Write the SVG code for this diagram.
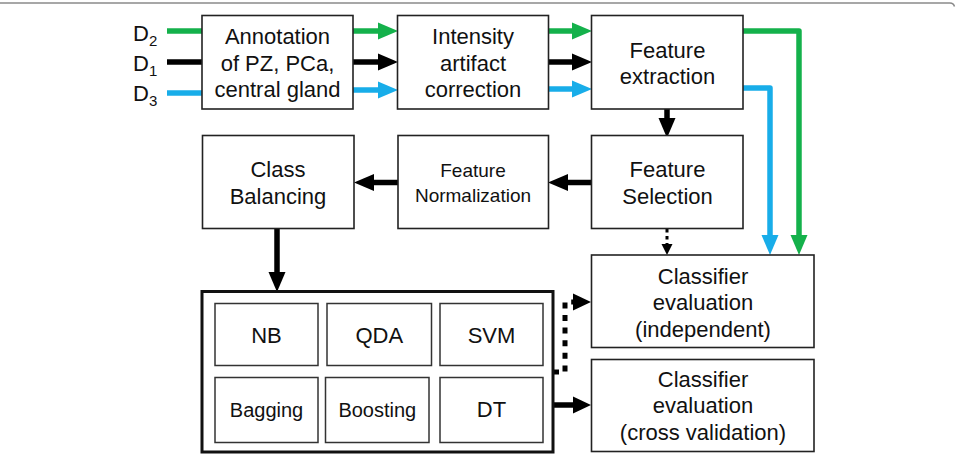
<svg xmlns="http://www.w3.org/2000/svg" width="956" height="456" viewBox="0 0 956 456">
<defs>
<style>
.box{fill:#fff;stroke:#222;stroke-width:1.6}
.inner{fill:#fff;stroke:#333;stroke-width:1.5}
.outer{fill:#fff;stroke:#111;stroke-width:3}
text{font-family:"Liberation Sans",Arial,Helvetica,sans-serif;fill:#111;text-anchor:middle}
.t{font-size:22px}
.s{font-size:19px}
.m{font-size:20px}
.lab{font-size:22px;text-anchor:start}
.sub{font-size:15px}
.k{fill:none;stroke:#000;stroke-width:5.5}
.g{fill:none;stroke:#14b14b;stroke-width:5.5}
.b{fill:none;stroke:#18ade9;stroke-width:5.5}
.dot{fill:none;stroke:#000;stroke-width:5;stroke-dasharray:6 6.6}
.dots{fill:none;stroke:#000;stroke-width:3;stroke-dasharray:3.5 3.5}
</style>
<marker id="ak" markerUnits="userSpaceOnUse" markerWidth="20" markerHeight="17" refX="0" refY="8.5" orient="auto" overflow="visible"><path d="M0,0 L20,8.5 L0,17 Z" fill="#000"/></marker>
<marker id="ag" markerUnits="userSpaceOnUse" markerWidth="20" markerHeight="17" refX="0" refY="8.5" orient="auto" overflow="visible"><path d="M0,0 L20,8.5 L0,17 Z" fill="#14b14b"/></marker>
<marker id="ab" markerUnits="userSpaceOnUse" markerWidth="20" markerHeight="17" refX="0" refY="8.5" orient="auto" overflow="visible"><path d="M0,0 L20,8.5 L0,17 Z" fill="#18ade9"/></marker>
<marker id="ad" markerUnits="userSpaceOnUse" markerWidth="18" markerHeight="17" refX="0" refY="8.5" orient="auto" overflow="visible"><path d="M0,0 L18,8.5 L0,17 Z" fill="#000"/></marker>
<marker id="as" markerUnits="userSpaceOnUse" markerWidth="11" markerHeight="11" refX="0" refY="5.5" orient="auto" overflow="visible"><path d="M0,0 L11,5.5 L0,11 Z" fill="#000"/></marker>
</defs>
<rect width="956" height="456" fill="#fff"/>
<path d="M0,3 H950 Q953.5,3 954.5,6.5" fill="none" stroke="#8a8a8a" stroke-width="1.5"/>

<g id="labels">
<text class="lab" x="133" y="41">D<tspan class="sub" dy="5">2</tspan></text>
<text class="lab" x="133" y="71">D<tspan class="sub" dy="5">1</tspan></text>
<text class="lab" x="133" y="101">D<tspan class="sub" dy="5">3</tspan></text>
</g>

<g id="connectors">
<path class="g" d="M167,31 H203"/>
<path class="k" d="M167,62 H203"/>
<path class="b" d="M167,93 H203"/>
<path class="g" d="M353,31 H378" marker-end="url(#ag)"/>
<path class="k" d="M353,62 H378" marker-end="url(#ak)"/>
<path class="b" d="M353,90 H378" marker-end="url(#ab)"/>
<path class="g" d="M548,31 H572" marker-end="url(#ag)"/>
<path class="k" d="M548,62 H572" marker-end="url(#ak)"/>
<path class="b" d="M548,89 H572" marker-end="url(#ab)"/>
<path class="g" d="M743,31 H799 V235" stroke-linejoin="round" marker-end="url(#ag)"/>
<path class="b" d="M743,88 H770 V235" stroke-linejoin="round" marker-end="url(#ab)"/>
<path class="k" d="M667,109 V118" marker-end="url(#ak)"/>
<path class="k" d="M591,182.5 H568" marker-end="url(#ak)"/>
<path class="k" d="M398,182.5 H374" marker-end="url(#ak)"/>
<path class="k" d="M277,228 V272" marker-end="url(#ak)"/>
<path class="dots" d="M667,229 V244" marker-end="url(#as)"/>
<path class="dot" d="M553,372 H565 V302 H573" marker-end="url(#ad)"/>
<path class="k" d="M553,405 H573" marker-end="url(#ad)"/>
</g>

<g id="annotation">
<rect class="box" x="202" y="15.5" width="151" height="93.5"/>
<text class="t" x="277.5" y="44">Annotation</text>
<text class="t" x="277.5" y="70.5">of PZ, PCa,</text>
<text class="t" x="277.5" y="97">central gland</text>
</g>
<g id="intensity">
<rect class="box" x="397.5" y="15.5" width="151" height="93.5"/>
<text class="t" x="473" y="44">Intensity</text>
<text class="t" x="473" y="70.5">artifact</text>
<text class="t" x="473" y="97">correction</text>
</g>
<g id="feature-extraction">
<rect class="box" x="591.5" y="15.5" width="151.5" height="93.5"/>
<text class="t" x="667.5" y="57.5">Feature</text>
<text class="t" x="667.5" y="83.5">extraction</text>
</g>
<g id="class-balancing">
<rect class="box" x="202.5" y="135.5" width="151.5" height="93"/>
<text class="t" x="278" y="177">Class</text>
<text class="t" x="278" y="203.5">Balancing</text>
</g>
<g id="feature-normalization">
<rect class="box" x="398" y="135.5" width="150.5" height="93"/>
<text class="s" x="473" y="177">Feature</text>
<text class="s" x="473" y="202">Normalization</text>
</g>
<g id="feature-selection">
<rect class="box" x="591.5" y="135.5" width="151.5" height="93"/>
<text class="t" x="667.5" y="177">Feature</text>
<text class="t" x="667.5" y="203.5">Selection</text>
</g>
<g id="classifier-independent">
<rect class="box" x="591.5" y="255" width="222.5" height="92.5"/>
<text class="t" x="703" y="283.5">Classifier</text>
<text class="t" x="703" y="310">evaluation</text>
<text class="t" x="703" y="336.5">(independent)</text>
</g>
<g id="classifier-cv">
<rect class="box" x="591.5" y="359.5" width="222.5" height="92"/>
<text class="t" x="703" y="387">Classifier</text>
<text class="t" x="703" y="413">evaluation</text>
<text class="t" x="703" y="440">(cross validation)</text>
</g>
<g id="classifiers">
<rect class="outer" x="202" y="291.5" width="351" height="160.5"/>
<g id="nb"><rect class="inner" x="215" y="303.5" width="103" height="62"/><text class="t" x="266.5" y="343">NB</text></g>
<g id="qda"><rect class="inner" x="327" y="303.5" width="104.5" height="62"/><text class="t" x="379.3" y="343">QDA</text></g>
<g id="svm"><rect class="inner" x="440" y="303.5" width="103" height="62"/><text class="t" x="491.5" y="343">SVM</text></g>
<g id="bagging"><rect class="inner" x="215" y="377.5" width="103" height="65"/><text class="m" x="266.5" y="417">Bagging</text></g>
<g id="boosting"><rect class="inner" x="325.5" y="377.5" width="103.5" height="65"/><text class="m" x="377.3" y="417">Boosting</text></g>
<g id="dt"><rect class="inner" x="440" y="377.5" width="103" height="65"/><text class="t" x="491.5" y="417">DT</text></g>
</g>
</svg>
